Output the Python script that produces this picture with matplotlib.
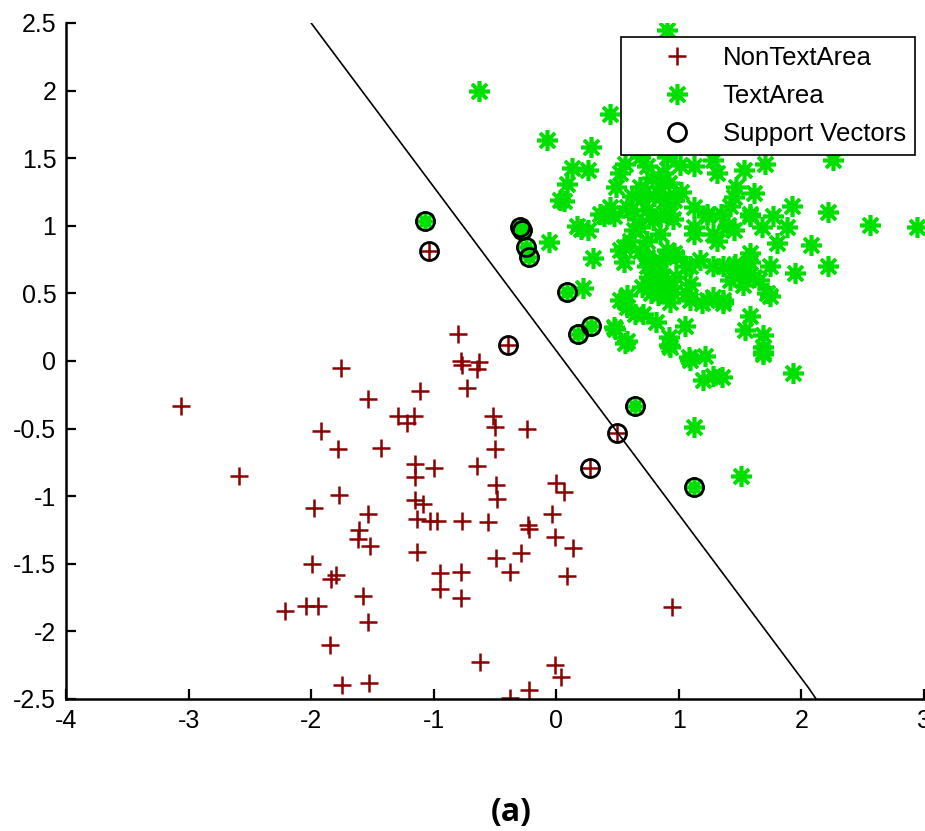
import matplotlib
matplotlib.use("Agg")
import matplotlib.pyplot as plt

plt.rcParams["font.family"] = ["Liberation Sans", "DejaVu Sans"]
plt.rcParams["axes.unicode_minus"] = False

# NonTextArea points (red plus)
nontext_x = [-3.06, -2.59, -1.76, -1.54, -1.11, -1.29, -1.16, -1.22, -1.92, -1.78,
             -1.43, -1.15, -1.00, -1.15, -1.77, -1.98, -1.15, -1.09, -1.54, -1.14,
             -1.03, -0.97, -1.61, -1.62, -1.52, -1.14, -1.99, -1.80, -1.84, -0.95,
             -0.95, -1.58, -2.21, -2.04, -1.94, -1.54, -1.85, -1.75, -1.53,
             -0.80, -0.78, -0.77, -0.63, -0.65, -0.73, -0.52, -0.50, -0.24, -0.50,
             -0.65, -0.49, -0.48, 0.00, 0.065, -0.035, -0.77, -0.56, -0.23, -0.22,
             -0.01, 0.135, -0.285, -0.49, -0.38, 0.087, -0.78, -0.78, -0.62, -0.01,
             0.04, -0.22, -0.38, 0.94,
             -1.04, -0.39, 0.495, 0.277]
nontext_y = [-0.33, -0.85, -0.05, -0.28, -0.22, -0.41, -0.41, -0.46, -0.52, -0.65,
             -0.64, -0.76, -0.79, -0.86, -0.99, -1.09, -1.03, -1.06, -1.13, -1.17,
             -1.18, -1.18, -1.25, -1.32, -1.37, -1.41, -1.50, -1.58, -1.61, -1.57,
             -1.69, -1.74, -1.85, -1.81, -1.81, -1.93, -2.10, -2.40, -2.38,
             0.20, 0.00, -0.03, -0.01, -0.06, -0.20, -0.41, -0.49, -0.50, -0.65,
             -0.78, -0.92, -1.02, -0.90, -0.97, -1.13, -1.18, -1.19, -1.21, -1.24,
             -1.30, -1.38, -1.42, -1.46, -1.56, -1.59, -1.56, -1.75, -2.23, -2.25,
             -2.34, -2.43, -2.49, -1.82,
             0.815, 0.116, -0.53, -0.79]

# TextArea points (green star)
text_x = [0.90, -0.63, -0.076, 0.285, 0.44, 0.128, 0.26, 0.087, 0.06, 0.56,
          2.26, 1.70, 1.53, 1.92, 2.22, 2.56, 2.94, 2.08, 2.22, 1.95,
          1.80, 1.77, -0.06, 0.30, 0.22, 0.47, 0.58, 0.20, 0.03,
          1.88, 1.68, 1.58, 1.42, 1.40, 1.74, 1.74, 1.36, 1.58, 1.54,
          1.69, 1.69, 1.93, 1.35, 1.36, 1.46, 1.58, 1.42, 1.52, 1.61,
          1.50, 1.65,
          0.56, 0.92, 1.09, 1.21, 1.20, 1.69, 1.69, 1.12, 1.51,
          0.26, 0.55, 0.55, 0.68, 0.58, 0.52, 0.64, 0.71, 0.48, 0.83,
          0.93, 0.81, 0.92, 0.93, 1.05, 1.08, 1.28, 1.09, 1.19, 1.28,
          0.85, 0.98, 1.09,
          0.36, 0.47, 0.60, 0.68, 0.79, 0.85, 0.90, 0.98, 1.06, 0.74,
          0.60, 0.93, 1.12, 1.23, 1.31, 1.28, 0.17,
          0.52, 0.74, 0.87, 1.01, 1.12, 1.31, 1.47, 1.61, 0.49, 0.68,
          0.85, 0.96, 1.12, 1.23, 1.34, 1.45, 1.39, 0.44, 0.39, 0.58,
          0.74, 0.85, 0.63, 0.74, 0.85, 0.96, 0.87, 0.74, 1.09, 1.17,
          1.45, 1.53, 1.58, 1.06, 1.23, 1.36, 0.58, 0.77, 1.72, 1.12,
          0.52, 1.28, 1.45, 1.58, 0.68, 0.90, 1.28,
          0.70, 0.80, 0.92, 0.78, 0.62, 0.95, 1.02, 0.88, 0.66,
          0.80, 0.82, 0.76, 0.90, 0.95, 0.70,
          -1.07, -0.30, -0.28, -0.25, -0.22, 0.087, 0.18, 0.285, 0.644, 1.12]
text_y = [2.45, 2.00, 1.635, 1.58, 1.83, 1.425, 1.41, 1.31, 1.18, 1.46,
          1.49, 1.46, 1.41, 1.15, 1.10, 1.005, 0.99, 0.86, 0.70, 0.65,
          0.87, 1.07, 0.88, 0.76, 0.54, 0.25, 0.15, 0.98, 1.19,
          0.99, 0.99, 1.07, 1.15, 1.005, 0.70, 0.48, 0.43, 0.33, 0.23,
          0.19, 0.07, -0.09, -0.12, 0.70, 0.72, 0.73, 0.60, 0.56, 0.62,
          0.66, 0.60,
          0.13, 0.12, 0.005, 0.04, -0.14, 0.10, 0.05, -0.49, -0.85,
          0.97, 0.84, 0.73, 0.81, 0.49, 0.45, 0.35, 0.35, 0.24, 0.49,
          0.44, 0.29, 0.18, 0.10, 0.26, 0.03, -0.11, 0.45, 0.43, 0.47,
          0.67, 0.62, 0.57,
          1.09, 1.07, 1.12, 0.99, 1.04, 0.94, 0.82, 0.77, 0.70, 0.77,
          0.89, 1.09, 0.99, 1.07, 0.89, 0.70, 1.00,
          1.39, 1.44, 1.39, 1.45, 1.44, 1.39, 1.29, 1.24, 1.29, 1.29,
          1.29, 1.19, 1.14, 1.09, 1.09, 1.21, 0.99, 1.14, 1.07, 1.14,
          1.12, 1.07, 0.97, 0.89, 0.75, 0.80, 0.62, 0.70, 0.70, 0.75,
          0.70, 0.65, 0.80, 0.50, 0.45, 0.45, 0.40, 0.50, 0.50, 0.94,
          0.82, 0.94, 0.97, 1.09, 1.51, 1.51, 1.49,
          1.20, 1.22, 1.32, 1.35, 1.22, 1.05, 1.25, 1.18, 1.05,
          0.60, 0.55, 0.62, 0.58, 0.50, 0.55,
          1.035, 0.99, 0.97, 0.84, 0.77, 0.51, 0.20, 0.26, -0.33, -0.93]

# support vectors (black circles)
sv_x = [-1.07, -1.04, -0.30, -0.28, -0.25, -0.22, 0.087, 0.18, 0.285, -0.39,
        0.644, 0.495, 0.277, 1.12]
sv_y = [1.035, 0.815, 0.99, 0.97, 0.84, 0.77, 0.51, 0.20, 0.26, 0.116,
        -0.33, -0.53, -0.79, -0.93]

# separating boundary
boundary_x = [-2.0, 0.5, 2.06, 2.12]
boundary_y = [2.5, -0.53, -2.42, -2.5]

fig = plt.figure(figsize=(9.25, 8.31), dpi=100)
ax = fig.add_axes([66 / 925, 132 / 831, 858 / 925, 676 / 831])

ax.plot(nontext_x, nontext_y, linestyle="none", marker="+", markersize=13,
        markeredgewidth=1.8, color="#8b0000", label="NonTextArea")
ax.plot(text_x, text_y, linestyle="none", marker=(8, 2, 0), markersize=15,
        markeredgewidth=2.6, color="#00e000", label="TextArea")
ax.plot(sv_x, sv_y, linestyle="none", marker="o", markersize=13,
        markeredgewidth=2.0, markeredgecolor="black", markerfacecolor="none",
        label="Support Vectors")
ax.plot(boundary_x, boundary_y, color="black", linewidth=1.2)

ax.set_xlim(-4, 3)
ax.set_ylim(-2.5, 2.5)
ax.set_xticks([-4, -3, -2, -1, 0, 1, 2, 3])
ax.set_yticks([-2.5, -2, -1.5, -1, -0.5, 0, 0.5, 1, 1.5, 2, 2.5])
ax.set_yticklabels(["-2.5", "-2", "-1.5", "-1", "-0.5", "0", "0.5", "1",
                    "1.5", "2", "2.5"])
ax.spines["top"].set_visible(False)
ax.spines["right"].set_visible(False)
ax.spines["left"].set_linewidth(1.8)
ax.spines["bottom"].set_linewidth(1.8)
ax.tick_params(direction="in", length=7, width=1.6, labelsize=18, pad=7)

leg = ax.legend(loc="upper right", bbox_to_anchor=(0.9895, 0.979),
                borderaxespad=0, fontsize=18.5, numpoints=1, fancybox=False,
                framealpha=1, edgecolor="black", borderpad=0.35,
                handlelength=3.6, handletextpad=0.0, labelspacing=0.55)
leg.get_frame().set_linewidth(1.2)
leg.set_zorder(5)

fig.text(0.553, 0.022, "(a)", ha="center", va="center", fontsize=23,
         fontweight="bold", family=["Open Sans", "DejaVu Sans"])

fig.savefig("out.png", dpi=100)
